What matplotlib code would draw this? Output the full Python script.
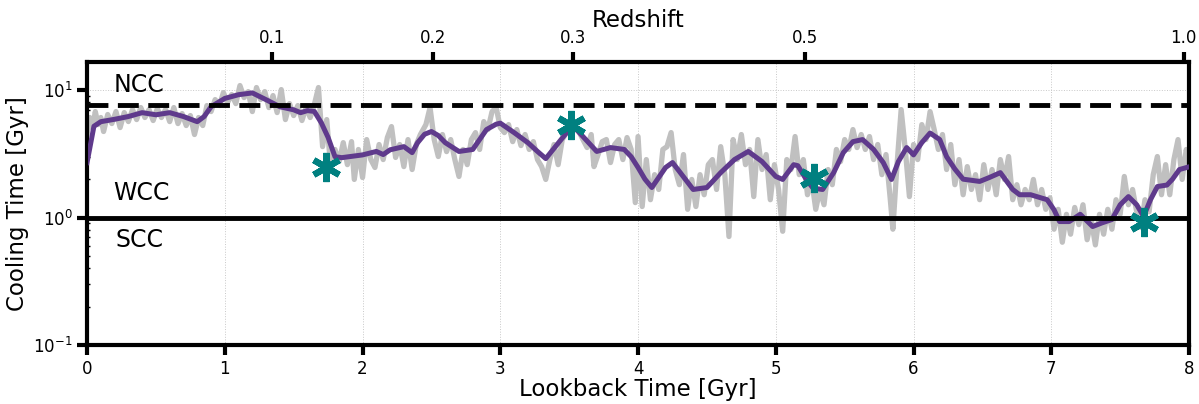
import matplotlib
matplotlib.use("Agg")
import matplotlib.pyplot as plt

# raw cooling time (grey)
raw_t = [
    0.00, 0.02, 0.04, 0.06, 0.08, 0.10, 0.12, 0.15, 0.18, 0.21, 0.24, 0.27, 0.30, 0.33, 0.36, 0.39,
    0.42, 0.45, 0.48, 0.51, 0.54, 0.57, 0.60, 0.63, 0.66, 0.69, 0.72, 0.75, 0.78, 0.81, 0.84, 0.87,
    0.90, 0.93, 0.96, 0.99, 1.02, 1.05, 1.08, 1.11, 1.14, 1.17, 1.20, 1.23, 1.26, 1.29, 1.32, 1.35,
    1.38, 1.41, 1.44, 1.47, 1.50, 1.53, 1.56, 1.59, 1.62, 1.65, 1.68, 1.71, 1.74, 1.77, 1.80, 1.83,
    1.86, 1.89, 1.92, 1.94, 1.97, 2.00, 2.03, 2.06, 2.09, 2.12, 2.15, 2.18, 2.21, 2.24, 2.27, 2.30,
    2.33, 2.36, 2.39, 2.42, 2.46, 2.49, 2.52, 2.55, 2.58, 2.61, 2.64, 2.67, 2.70, 2.73, 2.76, 2.79,
    2.82, 2.85, 2.88, 2.91, 2.94, 2.97, 3.00, 3.03, 3.06, 3.09, 3.12, 3.15, 3.18, 3.21, 3.24, 3.27,
    3.30, 3.33, 3.36, 3.39, 3.42, 3.45, 3.48, 3.51, 3.54, 3.57, 3.60, 3.63, 3.66, 3.68, 3.71, 3.74,
    3.77, 3.80, 3.83, 3.86, 3.89, 3.92, 3.95, 3.98, 4.00, 4.03, 4.06, 4.09, 4.12, 4.15, 4.18, 4.21,
    4.24, 4.27, 4.30, 4.33, 4.36, 4.39, 4.42, 4.45, 4.48, 4.51, 4.54, 4.57, 4.60, 4.63, 4.66, 4.69,
    4.72, 4.75, 4.78, 4.81, 4.84, 4.87, 4.90, 4.93, 4.96, 4.99, 5.02, 5.05, 5.08, 5.11, 5.14, 5.17,
    5.20, 5.23, 5.26, 5.29, 5.32, 5.35, 5.38, 5.41, 5.44, 5.47, 5.50, 5.53, 5.56, 5.59, 5.62, 5.65,
    5.68, 5.71, 5.74, 5.77, 5.80, 5.83, 5.85, 5.88, 5.91, 5.94, 5.97, 6.00, 6.03, 6.06, 6.09, 6.12,
    6.15, 6.18, 6.21, 6.24, 6.27, 6.30, 6.33, 6.36, 6.39, 6.42, 6.45, 6.48, 6.51, 6.54, 6.57, 6.60,
    6.63, 6.66, 6.69, 6.72, 6.75, 6.78, 6.81, 6.84, 6.87, 6.90, 6.93, 6.96, 6.99, 7.02, 7.05, 7.08,
    7.11, 7.14, 7.17, 7.20, 7.23, 7.26, 7.29, 7.32, 7.35, 7.38, 7.41, 7.44, 7.47, 7.50, 7.53, 7.56,
    7.59, 7.62, 7.65, 7.68, 7.71, 7.74, 7.77, 7.80, 7.83, 7.86, 7.89, 7.92, 7.95, 7.98, 8.00,
]
raw_tcool = [
    4.48, 6.09, 5.08, 6.78, 5.36, 6.09, 4.73, 6.43, 5.46, 6.78, 5.08, 6.66, 5.66, 7.03, 5.87, 7.29,
    6.09, 7.03, 5.77, 7.16, 6.09, 7.03, 5.66, 7.29, 5.46, 6.54, 5.27, 6.31, 4.48, 6.09, 5.27, 7.56,
    6.78, 8.42, 7.56, 9.55, 7.98, 9.22, 7.83, 10.85, 8.73, 9.73, 6.78, 10.47, 8.42, 9.73, 7.29, 9.05,
    6.66, 10.09, 5.87, 7.83, 6.31, 7.56, 5.77, 7.29, 6.09, 7.70, 10.47, 3.60, 5.87, 2.38, 3.42, 2.75,
    3.87, 2.60, 3.94, 1.99, 3.42, 2.06, 4.09, 2.85, 2.47, 3.74, 2.85, 4.24, 5.17, 2.96, 3.74, 2.51,
    4.09, 2.38, 3.74, 4.48, 5.36, 7.29, 4.09, 3.01, 4.48, 3.29, 4.09, 2.85, 2.10, 3.42, 2.60, 4.09,
    4.64, 3.42, 5.66, 4.90, 6.78, 7.29, 5.08, 4.64, 5.36, 3.94, 4.90, 3.67, 4.48, 3.42, 3.94, 2.85,
    2.51, 1.99, 2.85, 3.74, 2.60, 4.09, 4.64, 5.36, 5.08, 4.73, 4.09, 3.54, 4.48, 2.51, 3.12, 3.94,
    4.09, 2.70, 3.74, 4.09, 2.85, 4.24, 3.42, 1.31, 4.32, 1.22, 2.85, 1.38, 2.17, 1.66, 3.42, 3.60,
    4.64, 2.38, 1.81, 3.12, 1.16, 1.99, 1.22, 2.17, 1.51, 2.60, 2.85, 1.66, 3.60, 2.17, 0.71, 4.09,
    2.85, 4.48, 2.60, 3.42, 1.46, 4.09, 2.38, 3.12, 1.38, 2.60, 1.66, 0.78, 2.85, 2.38, 4.32, 2.17,
    2.85, 1.51, 1.99, 1.16, 1.66, 1.26, 2.38, 1.81, 3.42, 2.75, 4.09, 3.42, 4.90, 3.54, 4.48, 3.42,
    4.32, 2.85, 3.74, 2.17, 3.12, 1.43, 0.81, 2.60, 7.03, 3.42, 1.46, 3.74, 2.85, 5.36, 4.09, 6.78,
    4.90, 3.42, 4.48, 2.38, 3.74, 1.81, 2.85, 1.51, 2.51, 1.66, 2.17, 1.38, 2.60, 1.66, 2.38, 1.51,
    2.85, 1.99, 3.01, 1.38, 1.81, 1.26, 1.66, 1.38, 1.99, 1.26, 1.66, 1.16, 1.43, 0.81, 1.16, 0.64,
    1.06, 0.74, 1.20, 0.88, 1.26, 0.67, 0.965, 0.61, 1.06, 0.74, 1.16, 0.81, 1.38, 1.06, 2.10, 1.26,
    1.66, 1.11, 0.835, 1.38, 1.11, 2.17, 3.01, 1.51, 2.60, 1.51, 2.85, 4.09, 1.99, 3.42, 2.60,
]

# smoothed cooling time (purple)
smooth_t = [
    0.00, 0.05, 0.10, 0.20, 0.30, 0.40, 0.50, 0.60, 0.70, 0.80, 0.85, 0.90, 1.00, 1.10, 1.20, 1.30,
    1.40, 1.50, 1.55, 1.60, 1.65, 1.70, 1.75, 1.80, 1.85, 1.90, 2.00, 2.10, 2.15, 2.20, 2.30, 2.36,
    2.40, 2.45, 2.50, 2.55, 2.60, 2.70, 2.80, 2.90, 2.97, 3.00, 3.10, 3.20, 3.27, 3.33, 3.40, 3.50,
    3.53, 3.60, 3.70, 3.80, 3.90, 3.95, 4.00, 4.05, 4.10, 4.20, 4.25, 4.30, 4.40, 4.50, 4.60, 4.70,
    4.80, 4.90, 5.00, 5.05, 5.13, 5.16, 5.22, 5.27, 5.34, 5.42, 5.49, 5.56, 5.63, 5.71, 5.78, 5.84,
    5.89, 5.95, 6.00, 6.06, 6.12, 6.19, 6.24, 6.30, 6.36, 6.48, 6.55, 6.63, 6.72, 6.77, 6.85, 6.97,
    7.02, 7.06, 7.13, 7.21, 7.30, 7.37, 7.44, 7.50, 7.56, 7.62, 7.67, 7.72, 7.77, 7.84, 7.88, 7.93,
    8.00,
]
smooth_tcool = [
    2.7, 5.2, 5.65, 5.9, 6.2, 6.65, 6.4, 6.65, 6.2, 5.65, 6.2, 7.4, 8.6, 9.2, 9.5, 8.4,
    7.4, 7.0, 6.65, 6.9, 6.8, 5.55, 4.25, 3.0, 2.95, 3.0, 3.1, 3.3, 3.12, 3.4, 3.6, 3.23,
    3.87, 4.5, 4.73, 4.4, 3.87, 3.3, 3.42, 4.9, 5.4, 5.5, 4.64, 3.87, 3.3, 2.9, 3.6, 4.9,
    5.2, 4.32, 3.3, 3.54, 3.42, 3.0, 2.47, 2.0, 1.72, 2.47, 2.7, 2.3, 1.66, 1.72, 2.25, 2.85,
    3.3, 2.75, 2.1, 1.99, 2.6, 2.55, 2.0, 1.7, 1.66, 2.25, 3.23, 3.94, 4.09, 3.42, 2.7, 1.99,
    2.75, 3.54, 3.1, 3.87, 4.6, 4.09, 3.0, 2.4, 2.0, 1.92, 2.06, 2.25, 1.66, 1.51, 1.51, 1.38,
    1.15, 0.93, 0.93, 1.06, 0.85, 0.91, 0.965, 1.26, 1.46, 1.26, 1.02, 1.38, 1.75, 1.8, 2.0, 2.38,
    2.5,
]

# highlighted snapshots
star_t = [1.735, 3.51, 5.28, 7.67]
star_tcool = [2.51, 5.36, 2.06, 0.93]

ncc_limit = 7.7
scc_limit = 1.0

regimes = ["NCC", "WCC", "SCC"]
regime_x = [0.19, 0.19, 0.21]
regime_y = [11.0, 1.57, 0.67]

redshift_labels = ["0.1", "0.2", "0.3", "0.5", "1.0"]
redshift_lookback = [1.34, 2.51, 3.53, 5.21, 7.96]

plt.rcParams["font.family"] = "DejaVu Sans"

fig = plt.figure(figsize=(11.99, 4.04), dpi=100)
ax = fig.add_axes((0.0726, 0.146, 0.9191, 0.7005))

ax.plot(raw_t, raw_tcool, color="#c0c0c0", lw=3.8, zorder=2)
ax.plot(smooth_t, smooth_tcool, color="#5f3a8c", lw=3.6, zorder=3)
ax.axhline(ncc_limit, color="black", lw=3.5, dashes=(4.3, 1.95), zorder=4)
ax.axhline(scc_limit, color="black", lw=3.5, zorder=4)
ax.plot(star_t, star_tcool, ls="none", marker=(6, 2, 0), ms=21, mew=4.5,
        color="#008080", zorder=5)

for name, x, y in zip(regimes, regime_x, regime_y):
    ax.text(x, y, name, fontsize=17, va="center", ha="left")

ax.set_yscale("log")
ax.set_xlim(0, 8)
ax.set_ylim(0.1, 16.6)
ax.set_xticks(range(9))
ax.grid(True, which="major", ls=":", lw=0.7, color="#c8c8c8", zorder=0)

ax.set_xlabel("Lookback Time [Gyr]", fontsize=16.5, labelpad=0)
ax.set_ylabel("Cooling Time [Gyr]", fontsize=16.5, labelpad=3)
ax.tick_params(which="major", labelsize=12, length=7, width=3, direction="out")
ax.tick_params(which="minor", length=2, width=1, direction="in")
for s in ax.spines.values():
    s.set_linewidth(3)

top = ax.twiny()
top.set_xlim(ax.get_xlim())
top.set_xticks(redshift_lookback)
top.set_xticklabels(redshift_labels)
top.set_xlabel("Redshift", fontsize=16.5, labelpad=2)
top.tick_params(labelsize=12, length=7, width=3, direction="out")

fig.savefig("out.png", dpi=100)
